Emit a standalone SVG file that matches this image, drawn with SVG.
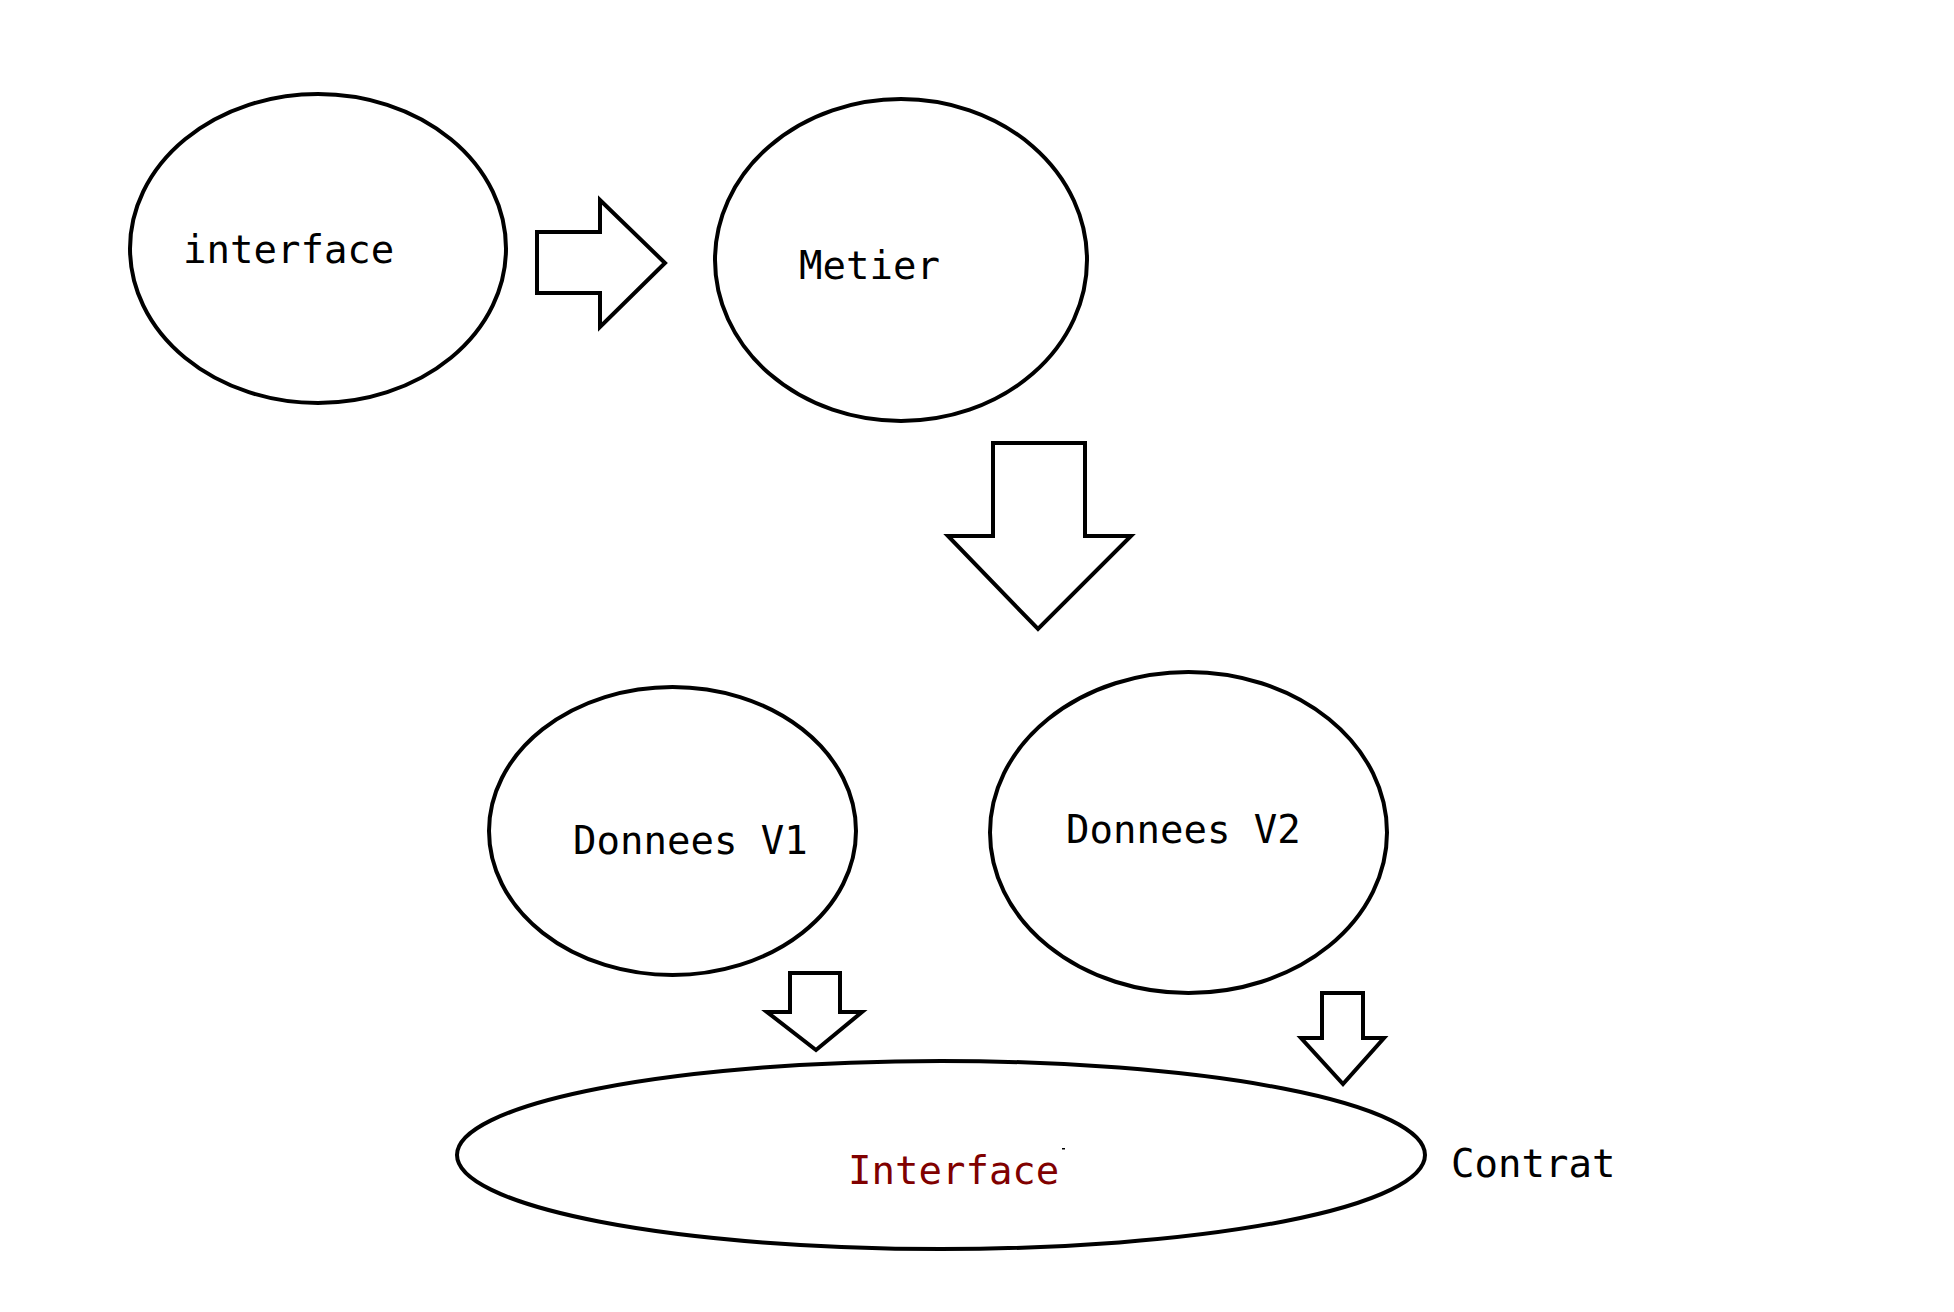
<svg xmlns="http://www.w3.org/2000/svg" width="1954" height="1312" viewBox="0 0 1954 1312">
<style>
.node{fill:#ffffff;stroke:#000000;stroke-width:4}
.arrow{fill:#ffffff;stroke:#000000;stroke-width:4;stroke-linejoin:miter}
.lbl{font-family:"DejaVu Sans Mono","Liberation Mono",monospace;font-size:39px;fill:#000000}
.red{fill:#800000}
</style>
<rect width="1954" height="1312" fill="#ffffff"/>
<g id="connectors">
<polygon class="arrow" points="537,232 600,232 600,200 665,263 600,327 600,293 537,293"/>
<polygon class="arrow" points="993,443 1085,443 1085,536 1131,536 1038,629 948,536 993,536"/>
<polygon class="arrow" points="790,973 840,973 840,1012 862,1012 816,1050 767,1012 790,1012"/>
<polygon class="arrow" points="1322,993 1363,993 1363,1038 1384,1038 1343,1084 1301,1038 1322,1038"/>
</g>
<g id="node-interface">
<ellipse class="node" cx="318" cy="248.5" rx="188" ry="154.5"/>
<text class="lbl" x="183" y="263">interface</text>
</g>
<g id="node-metier">
<ellipse class="node" cx="901" cy="260" rx="186" ry="161"/>
<text class="lbl" x="799" y="279">Metier</text>
</g>
<g id="node-donnees-v1">
<ellipse class="node" cx="672.5" cy="831" rx="183.5" ry="144"/>
<text class="lbl" x="573" y="854">Donnees V1</text>
</g>
<g id="node-donnees-v2">
<ellipse class="node" cx="1188.5" cy="832.5" rx="198.5" ry="160.5"/>
<text class="lbl" x="1066" y="843">Donnees V2</text>
</g>
<g id="node-interface-contrat">
<ellipse class="node" cx="941" cy="1155" rx="484" ry="94"/>
<text class="lbl red" x="848" y="1184">Interface</text>
<rect x="1062" y="1148" width="3" height="1.5" fill="#000000"/>
</g>
<g id="label-contrat">
<text class="lbl" x="1451" y="1177">Contrat</text>
</g>
</svg>
